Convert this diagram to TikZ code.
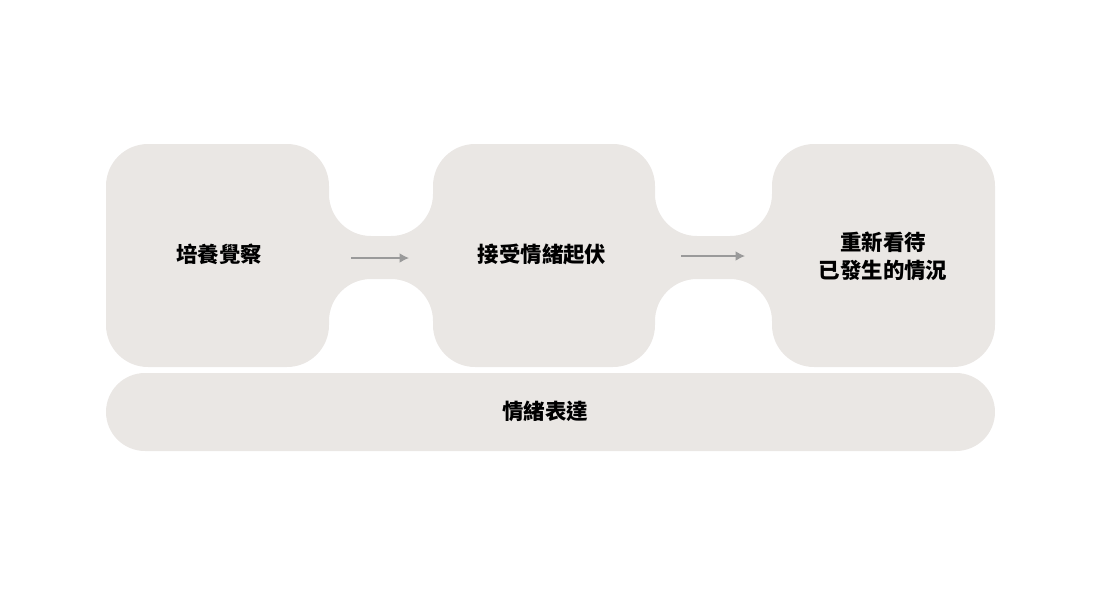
\documentclass[tikz,border=0pt]{standalone}
\usepackage{fontspec}
\usepackage{tikz}
\usepackage{xcolor}
\usetikzlibrary{arrows.meta}
\usetikzlibrary{positioning}
\newfontfamily\cjk{Noto Sans CJK TC}
\definecolor{pane}{HTML}{EAE7E4}
\definecolor{flow}{HTML}{9A9A9A}
\tikzstyle{stage}=[font=\cjk\bfseries\fontsize{12.2}{16}\selectfont, align=center, text=black]
\tikzstyle{flowarrow}=[->, draw=flow, line width=0.85pt]
\tikzset{>={Latex[length=5.4pt,width=5.6pt]}}

\begin{document}
\begin{tikzpicture}[x=0.02cm, y=-0.02cm]
    \useasboundingbox (0, 0) rectangle (1100, 593);

    % top band: three boxes joined by narrow bridges
    \fill[pane, rounded corners=0.84cm] (106, 144) -- (329, 144) -- (329, 236) -- (433, 236)
        -- (433, 144) -- (655, 144) -- (655, 236) -- (772, 236) -- (772, 144)
        -- (995, 144) -- (995, 367) -- (772, 367) -- (772, 279) -- (655, 279)
        -- (655, 367) -- (433, 367) -- (433, 279) -- (329, 279) -- (329, 367)
        -- (106, 367) -- cycle;
    % bottom bar
    \fill[pane, rounded corners=0.78cm] (106, 373) rectangle (995, 451);

    \draw node at (219, 254) [stage] (aware) {培養覺察};
    \draw node at (542, 254) [stage] (accept) {接受情緒起伏};
    \draw node at (883, 256) [stage] (review) {重新看待\\已發生的情況};
    \draw node at (545, 411) [stage] (express) {情緒表達};

    \coordinate (aware out) at (351, 258);
    \coordinate (accept in) at (409, 258);
    \coordinate (accept out) at (681, 256);
    \coordinate (review in) at (745, 256);

    \draw [flowarrow] (aware out) to (accept in);
    \draw [flowarrow] (accept out) to (review in);
\end{tikzpicture}
\end{document}
